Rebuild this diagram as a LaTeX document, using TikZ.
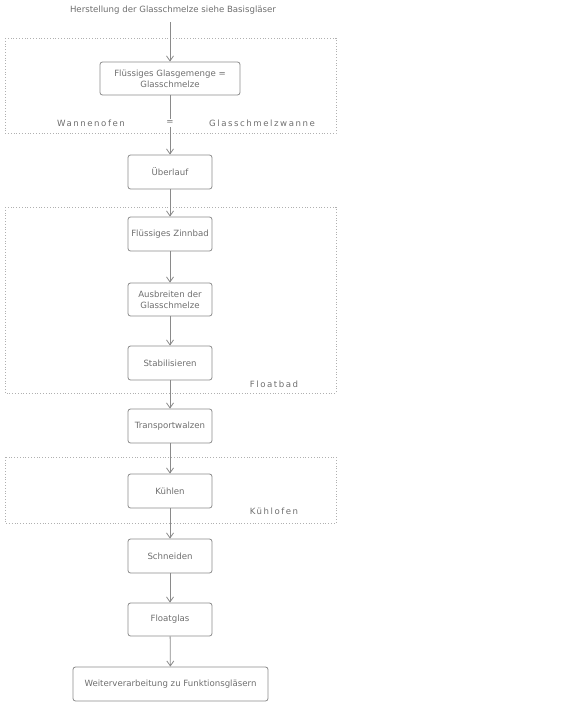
\documentclass[tikz,border=0pt]{standalone}
\usepackage{fontspec}
\setmainfont{DejaVu Sans}
\usetikzlibrary{arrows.meta}
\definecolor{txt}{HTML}{6E6E6E}
\definecolor{ln}{HTML}{8A8A8A}
\definecolor{dotc}{HTML}{B0B0B0}
\begin{document}
\begin{tikzpicture}[x=1pt,y=-1pt,
  stepbox/.style={draw=ln,line width=0.8pt,rounded corners=2.5pt,minimum width=84pt,minimum height=34pt,align=center,font=\fontsize{8.6}{11}\selectfont,text=txt,inner sep=2pt},
  group/.style={draw=dotc,line width=0.8pt,dotted},
  grouplabel/.style={font=\fontsize{8.6}{11}\selectfont\addfontfeature{LetterSpace=18},text=txt},
  conn/.style={draw=ln,line width=0.8pt,-{Straight Barb[length=5pt,width=7pt]}}]
\useasboundingbox (0,0) rectangle (587,705);
% groups
\draw[group] (5,38) rectangle (336,133);
\draw[group] (5,207) rectangle (336,393);
\draw[group] (5,457) rectangle (336,523);
% top text
\node[font=\fontsize{8.6}{11}\selectfont,text=txt] (top) at (173,10) {Herstellung der Glasschmelze siehe Basisgläser};
\coordinate (topend) at (170,22);
% boxes
\node[stepbox,minimum width=140pt,minimum height=33pt] (b1) at (170,78.5) {Flüssiges Glasgemenge =\\Glasschmelze};
\node[grouplabel] (wo) at (91,123) {Wannenofen};
\node[grouplabel] (gw) at (262,123) {Glasschmelzwanne};
\node[stepbox] (b2) at (170,172) {Überlauf};
\node[stepbox] (b3) at (170,234) {Flüssiges Zinnbad};
\node[stepbox,minimum height=33pt] (b4) at (170,299.5) {Ausbreiten der\\Glasschmelze};
\node[stepbox] (b5) at (170,363) {Stabilisieren};
\node[grouplabel] (fb) at (274,384) {Floatbad};
\node[stepbox] (b6) at (170,426) {Transportwalzen};
\node[stepbox] (b7) at (170,491) {Kühlen};
\node[grouplabel] (ko) at (274,511) {Kühlofen};
\node[stepbox] (b8) at (170,556) {Schneiden};
\node[stepbox,minimum height=33pt] (b9) at (170,619.5) {Floatglas};
\node[stepbox,minimum width=195pt] (b10) at (170.5,684) {Weiterverarbeitung zu Funktionsgläsern};
% connectors
\draw[conn] (topend) -- (b1);
\draw[conn] (b1) -- (b2);
\draw[conn] (b2) -- (b3);
\draw[conn] (b3) -- (b4);
\draw[conn] (b4) -- (b5);
\draw[conn] (b5) -- (b6);
\draw[conn] (b6) -- (b7);
\draw[conn] (b7) -- (b8);
\draw[conn] (b8) -- (b9);
\draw[conn] (b9) -- (b10);
\node[grouplabel,fill=white,inner sep=2pt] (eq) at (170,123) {=};
\end{tikzpicture}
\end{document}
